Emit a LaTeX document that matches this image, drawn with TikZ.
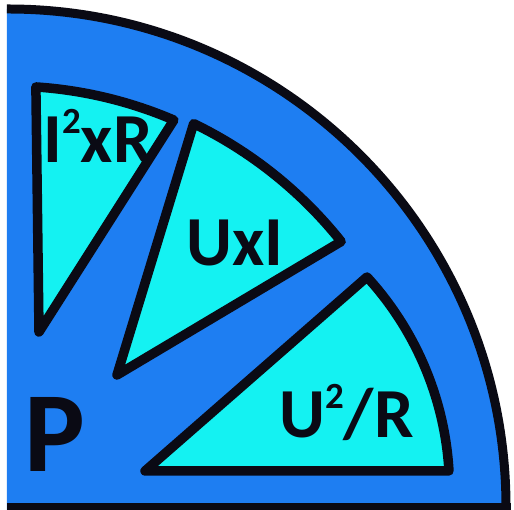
\documentclass[tikz,border=0pt]{standalone}
\usepackage{fontspec}
\setmainfont{Carlito}
\usepackage{xcolor}
\usepackage{tikz}
\usetikzlibrary{positioning}
\definecolor{PowBlue}{HTML}{1E7EF2}
\definecolor{PowCyan}{HTML}{14F2F2}
\definecolor{PowInk}{HTML}{0A0A14}

\newcommand{\sqd}{\raisebox{17pt}{\fontsize{21}{21}\selectfont 2}}

\tikzset{
  slice/.style={fill=PowCyan, draw=PowInk, line width=0.19cm, line join=round},
  lbl/.style={font=\bfseries\fontsize{40}{40}\selectfont, text=PowInk, inner sep=0pt, anchor=base west},
  biglbl/.style={lbl, font=\bfseries\fontsize{65}{65}\selectfont}
}

\begin{document}
\begin{tikzpicture}[x=0.02cm, y=0.02cm]
  \useasboundingbox (-8,-3) rectangle (506,507);
  % quarter disc
  \fill[PowBlue] (-1,-3) -- (-1,498) -- (0,498) arc[start angle=90, end angle=0, radius=498] -- (498,-3) -- cycle;
  \draw[PowInk, line width=0.18cm] (-1,498) -- (0,498) arc[start angle=90, end angle=0, radius=498];
  \draw[PowInk, line width=0.14cm] (-1,0.5) -- (503,0.5);
  % slices
  \draw[slice] (31,175) -- (86.2:421) arc[start angle=86.2, end angle=66.8, radius=421] -- cycle;
  \draw[slice] (109,132) -- (64.16:426) arc[start angle=64.16, end angle=38.55, radius=426] -- cycle;
  \draw[slice] (137,36) -- (359,230) arc[start angle=42.5, end angle=3.32, radius=314] -- cycle;
  % labels
  \node[biglbl] (pw) at (16,35) {P};
  \node[lbl] (ixr) at (35,344) {I\sqd xR};
  \node[lbl] (uxi) at (178,241) {UxI};
  \node[lbl] (uur) at (271,69) {U\sqd/R};
\end{tikzpicture}
\end{document}
